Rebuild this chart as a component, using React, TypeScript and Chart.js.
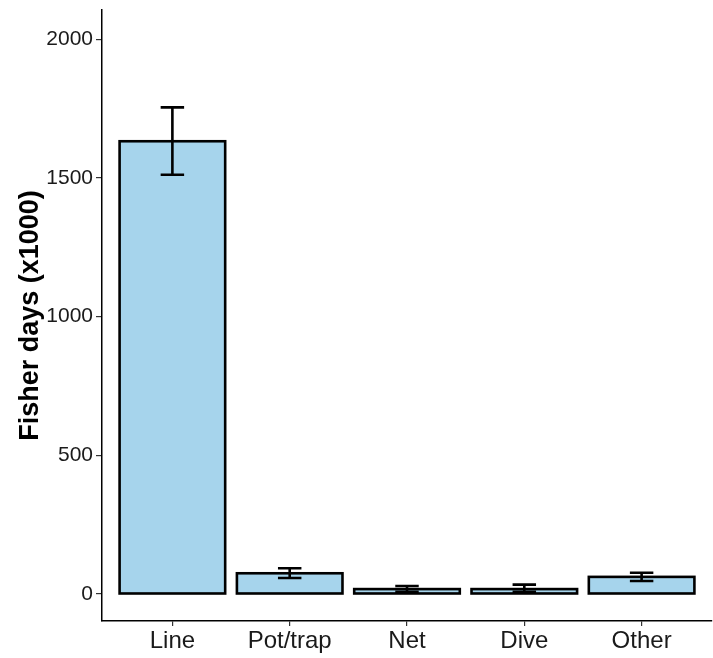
import React, { useEffect, useRef } from "react";
import { Chart, registerables } from "chart.js";

Chart.register(...registerables);

const categories = ["Line", "Pot/trap", "Net", "Dive", "Other"];
const values = [1632, 75, 18, 18, 62];
const errLow = [1511, 58, 8, 8, 47];
const errHigh = [1754, 93, 29, 34, 77];
const yTicks = [0, 500, 1000, 1500, 2000];

const outlineAndErrorPlugin = {
  id: "outlineAndErrors",
  afterDatasetsDraw(chart: any) {
    const { ctx, scales } = chart;
    const x = scales.x;
    const y = scales.y;
    const meta = chart.getDatasetMeta(0);
    ctx.save();
    ctx.strokeStyle = "#000";
    ctx.lineWidth = 2.6;
    ctx.lineCap = "butt";
    ctx.lineJoin = "miter";
    meta.data.forEach((bar: any) => {
      const p = bar.getProps(["x", "y", "base", "width"], true);
      ctx.strokeRect(p.x - p.width / 2, p.y, p.width, p.base - p.y);
    });
    const half = x.getPixelForValue(0.1) - x.getPixelForValue(0);
    categories.forEach((_, i) => {
      const cx = x.getPixelForValue(i);
      const yl = y.getPixelForValue(errLow[i]);
      const yh = y.getPixelForValue(errHigh[i]);
      ctx.beginPath();
      ctx.moveTo(cx, yl);
      ctx.lineTo(cx, yh);
      ctx.moveTo(cx - half, yl);
      ctx.lineTo(cx + half, yl);
      ctx.moveTo(cx - half, yh);
      ctx.lineTo(cx + half, yh);
      ctx.stroke();
    });
    ctx.restore();
  },
};

export default function App() {
  const ref = useRef<HTMLCanvasElement>(null);
  useEffect(() => {
    document.body.style.margin = "0";
    const chart = new Chart(ref.current!, {
      type: "bar",
      data: {
        datasets: [
          {
            data: values.map((v, i) => ({ x: i, y: v })),
            backgroundColor: "#a6d4ec",
            borderWidth: 0,
            barPercentage: 0.9,
            categoryPercentage: 1,
          },
        ],
      },
      options: {
        animation: false,
        responsive: false,
        maintainAspectRatio: false,
        layout: { padding: { top: 10, right: 1, left: 0, bottom: 0 } },
        plugins: { legend: { display: false }, tooltip: { enabled: false } },
        scales: {
          x: {
            type: "linear",
            offset: false,
            min: -0.6,
            max: 4.6,
            afterBuildTicks: (s: any) => {
              s.ticks = categories.map((_, i) => ({ value: i }));
            },
            afterFit: (s: any) => {
              s.height = 37;
              s.paddingLeft = 0;
              s.paddingRight = 0;
            },
            ticks: {
              callback: (v: any) => categories[v] ?? "",
              color: "#1a1a1a",
              font: { family: "Liberation Sans, Arial", size: 24 },
              padding: 1,
              maxRotation: 0,
              autoSkip: false,
            },
            grid: { offset: false, drawOnChartArea: false, drawTicks: true, tickLength: 5, color: "#333", lineWidth: 1.2 },
            border: { display: true, color: "#000", width: 1.5 },
          },
          y: {
            type: "linear",
            min: -97,
            max: 2105,
            afterBuildTicks: (s: any) => {
              s.ticks = yTicks.map((v) => ({ value: v }));
            },
            afterFit: (s: any) => {
              s.width = 102;
              s.paddingTop = 0;
              s.paddingBottom = 0;
            },
            ticks: {
              callback: (v: any) => String(v),
              color: "#1a1a1a",
              font: { family: "Liberation Sans, Arial", size: 21 },
              padding: 3,
            },
            grid: { drawOnChartArea: false, drawTicks: true, tickLength: 6, color: "#333", lineWidth: 1.2 },
            border: { display: true, color: "#000", width: 1.5 },
            title: {
              display: true,
              text: "Fisher days (x1000)",
              color: "#000",
              font: { family: "Liberation Sans, Arial", size: 27, weight: "bold" },
              padding: { top: 14, bottom: 0 },
            },
          },
        },
      },
      plugins: [outlineAndErrorPlugin],
    } as any);
    return () => chart.destroy();
  }, []);
  return <canvas ref={ref} width={713} height={658} style={{ display: "block" }} />;
}
